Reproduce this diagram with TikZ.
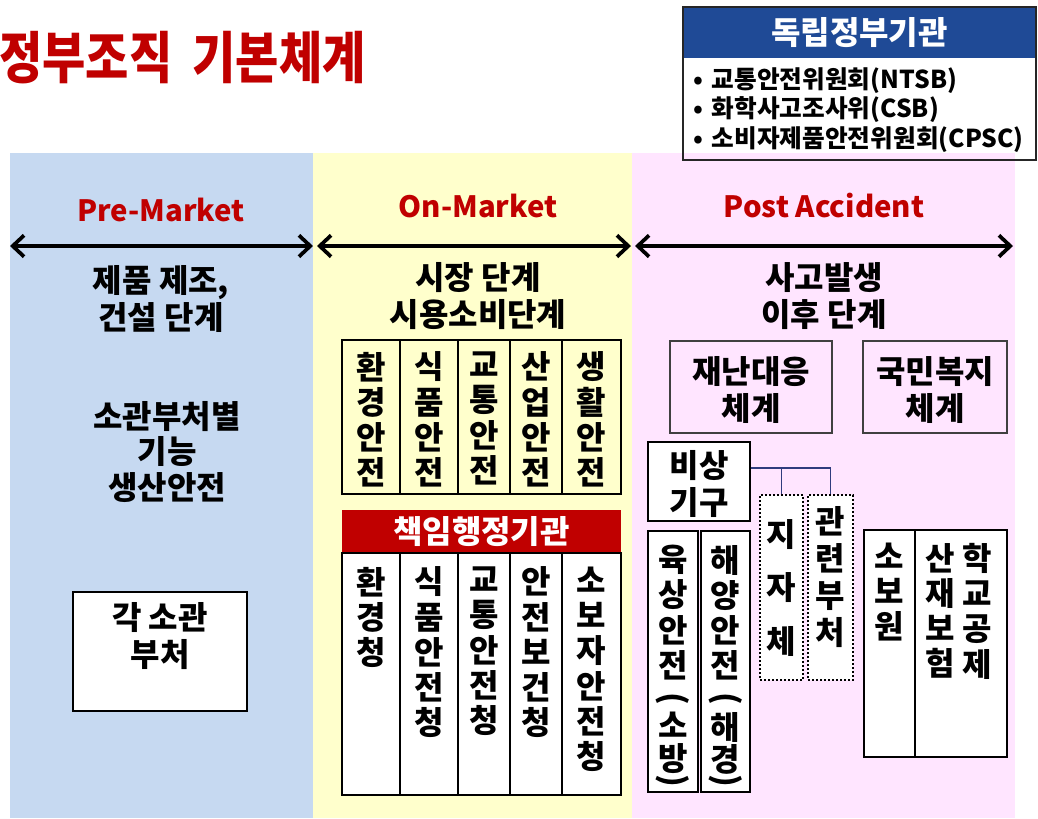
\documentclass[tikz,border=0pt]{standalone}
\usepackage{fontspec}
\setmainfont{Noto Sans CJK KR}
\usetikzlibrary{arrows.meta,fit,calc}
\definecolor{pblue}{HTML}{C6D9F1}
\definecolor{pyellow}{HTML}{FFFFCC}
\definecolor{ppink}{HTML}{FFE5FF}
\definecolor{dred}{HTML}{C00000}
\definecolor{hblue}{HTML}{1F4A96}
\definecolor{lnblue}{HTML}{2F3C7E}
\tikzset{
  txt/.style={font=\fontsize{24}{27.5}\selectfont\bfseries, align=center, inner sep=0pt},
  vtxt/.style={font=\fontsize{24}{26.4}\selectfont\bfseries, align=center, inner sep=0pt, anchor=north},
  paren/.style={font=\fontsize{24}{26}\selectfont\bfseries, inner sep=0pt, rotate=-90},
  phasehead/.style={font=\fontsize{22}{26}\selectfont\bfseries, text=dred, inner sep=0pt},
  rbox/.style={draw=black, line width=1.3pt, inner sep=0pt},
  wbox/.style={rbox, fill=white},
  gbox/.style={draw=black!75, line width=1.1pt, inner sep=0pt},
  dbox/.style={draw=black, line width=1.7pt, dash pattern=on 1.5pt off 1.5pt, fill=white, inner sep=0pt},
  phasearrow/.style={line width=2.8pt, {Straight Barb[length=8.5pt,width=16pt]}-{Straight Barb[length=8.5pt,width=16pt]}},
  conn/.style={draw=lnblue, line width=1.3pt},
}
\begin{document}
\begin{tikzpicture}[x=0.75pt,y=-0.75pt]
\useasboundingbox (0,0) rectangle (1038,818);
\fill[white] (0,0) rectangle (1038,818);
% panels
\fill[pblue] (10,153) rectangle (313,818);
\fill[pyellow] (313,153) rectangle (632,818);
\fill[ppink] (632,153) rectangle (1015,818);
% title
\node[anchor=west, inner sep=0pt, text=dred, font=\fontsize{42}{46}\selectfont\bfseries, xscale=0.84] (title) at (-1,58) {정부조직 \kern0.2em기본체계};
% independent agencies
\node[fit={(683,7) (1036,58)}, fill=hblue, inner sep=0pt] (indephead) {};
\node[text=white, font=\fontsize{24}{26}\selectfont\bfseries, inner sep=0pt] (indeptitle) at (indephead.center) {독립정부기관};
\node[fit={(683,7) (1036,160)}, draw=black!85, line width=1.2pt, inner sep=0pt] (indep) {};
\node[anchor=west, align=left, inner sep=0pt, font=\fontsize{18.5}{22}\selectfont\bfseries] (indeplist) at (693,110) {•\hspace{6.5pt}교통안전위원회(NTSB)\\•\hspace{6.5pt}화학사고조사위(CSB)\\•\hspace{6.5pt}소비자제품안전위원회(CPSC)};
% phase headers
\node[phasehead] (pre) at (161,210) {Pre-Market};
\node[phasehead] (on) at (478,206) {On-Market};
\node[phasehead] (post) at (824,206) {Post Accident};
% arrows
\coordinate (a1l) at (10,246); \coordinate (a1r) at (313,246);
\coordinate (a2l) at (317,246); \coordinate (a2r) at (631,246);
\coordinate (a3l) at (635,246); \coordinate (a3r) at (1013,246);
\draw[phasearrow] (a1l) -- (a1r);
\draw[phasearrow] (a2l) -- (a2r);
\draw[phasearrow] (a3l) -- (a3r);
% stage texts
\node[txt] (pretxt) at (161,299) {제품 제조,\\건설 단계};
\node[txt] (ontxt) at (478,296) {시장 단계\\시용소비단계};
\node[txt] (posttxt) at (824,296) {사고발생\\이후 단계};
% pre-market
\node[txt, font=\fontsize{24}{26.4}\selectfont\bfseries] (prefunc) at (167,452) {소관부처별\\기능\\생산안전};
\node[wbox, fit={(73,592) (247,711)}] (dept) {};
\node[txt] (depttxt) at (160,636) {각 소관\\부처};
% on-market grid
\foreach \xa/\xb/\nm/\t in {342/400/sa/{환\\경\\안\\전}, 400/458/sb/{식\\품\\안\\전}, 458/510/sc/{교\\통\\안\\전}, 510/562/sd/{산\\업\\안\\전}, 562/621/se/{생\\활\\안\\전}}{
  \node[rbox, fit={(\xa,340) (\xb,494)}] (\nm) {};
  \node[vtxt] (\nm t) at ($(\nm.north)+(0,12.5)$) {\t};
}
\node[fit={(342,510) (621,553)}, fill=dred, inner sep=0pt] (resp) {};
\node[text=white, font=\fontsize{24}{26}\selectfont\bfseries, inner sep=0pt] (resptxt) at (resp.center) {책임행정기관};
\foreach \xa/\xb/\nm/\t in {342/400/ra/{환\\경\\청}, 400/458/rb/{식\\품\\안\\전\\청}, 458/510/rc/{교\\통\\안\\전\\청}, 510/562/rd/{안\\전\\보\\건\\청}, 562/621/re/{소\\보\\자\\안\\전\\청}}{
  \node[wbox, fit={(\xa,553) (\xb,795)}] (\nm) {};
  \node[vtxt] (\nm t) at ($(\nm.north)+(0,14.5)$) {\t};
}
% post accident
\node[gbox, fit={(670,341) (832,433)}] (disaster) {};
\node[txt] (disastert) at (751,390) {재난대응\\체계};
\node[gbox, fit={(863,341) (1007,433)}] (welfare) {};
\node[txt] (welfaret) at (935,390) {국민복지\\체계};
\coordinate (jtop) at (784,468);
\node[wbox, line width=2.2pt, fit={(648,442) (750,521)}] (bisang) {};
\node[txt] (bisangt) at (699,484) {비상\\기구};
\node[wbox, fit={(648,531) (698,792)}] (land) {};
\node[vtxt] (landa) at (673,545) {육\\상\\안\\전};
\node[paren] (landp1) at (673,699) {(};
\node[vtxt, font=\fontsize{24}{24.5}\selectfont\bfseries] (landb) at (673,712) {소\\방};
\node[paren] (landp2) at (673,781) {)};
\node[wbox, fit={(701,531) (750,792)}] (sea) {};
\node[vtxt] (seaa) at (725.5,545) {해\\양\\안\\전};
\node[paren] (seap1) at (725.5,699) {(};
\node[vtxt, font=\fontsize{24}{24.5}\selectfont\bfseries] (seab) at (725.5,712) {해\\경};
\node[paren] (seap2) at (725.5,781) {)};
\node[dbox, fit={(760,495) (803,680)}] (jija) {};
\node[vtxt, font=\fontsize{24}{40}\selectfont\bfseries] (jijat) at ($(jija.north)+(0,25.5)$) {지\\자\\체};
\node[dbox, fit={(808,495) (853,680)}] (gwan) {};
\node[vtxt, font=\fontsize{24}{27.75}\selectfont\bfseries] (gwant) at ($(gwan.north)+(0,12.5)$) {관\\련\\부\\처};
\draw[conn] (bisang.east |- jtop) -| (gwan.north);
\draw[conn] (jija.north |- jtop) -- (jija.north);
\node[wbox, fit={(864,530) (915,757)}] (sobo) {};
\node[vtxt] (sobot) at ($(sobo.north)+(0,13.5)$) {소\\보\\원};
\node[wbox, fit={(915,530) (1007,757)}] (insur) {};
\node[vtxt] (insur1) at (940,543) {산\\재\\보\\험};
\node[vtxt] (insur2) at (977,543) {학\\교\\공\\제};
\end{tikzpicture}
\end{document}
